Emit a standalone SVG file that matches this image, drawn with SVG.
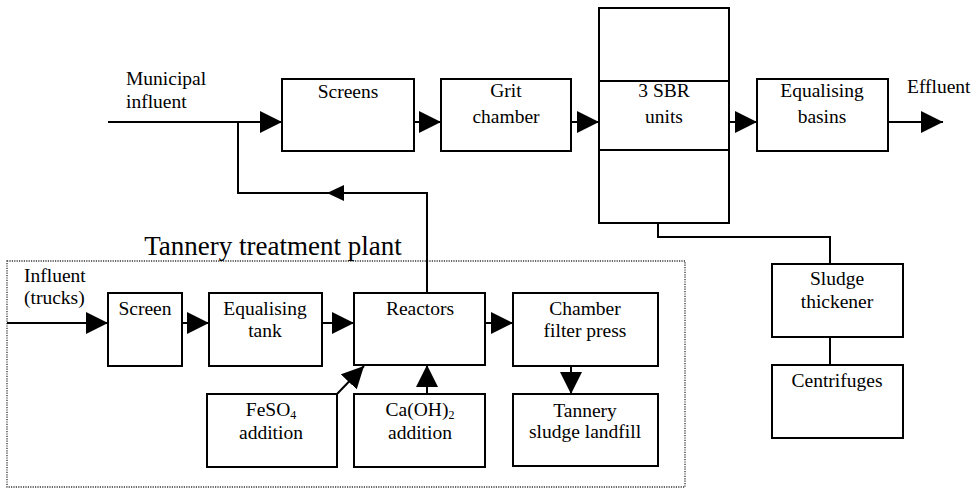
<svg xmlns="http://www.w3.org/2000/svg" width="977" height="490" viewBox="0 0 977 490">
<defs>
<style>
.box{fill:#fff;stroke:#000;stroke-width:2}
.ln{fill:none;stroke:#000;stroke-width:2}
.t{font-family:"Liberation Serif","Times New Roman",serif;font-size:19.5px;fill:#000}
.c{text-anchor:middle}
.title{font-family:"Liberation Serif","Times New Roman",serif;font-size:27px;fill:#000;text-anchor:middle}
.dot{fill:none;stroke:#333;stroke-width:1.3;stroke-dasharray:1.2 1.2}
.sub{font-size:12px;baseline-shift:-3px}
</style>
<marker id="ah" markerUnits="userSpaceOnUse" markerWidth="23" markerHeight="22" refX="22" refY="11" orient="auto" viewBox="0 0 23 22">
<path d="M0,0 L22,11 L0,22 Z" fill="#000"/>
</marker>
<marker id="ahs" markerUnits="userSpaceOnUse" markerWidth="18" markerHeight="16" refX="17" refY="8" orient="auto" viewBox="0 0 18 16">
<path d="M0,0 L17,8 L0,16 Z" fill="#000"/>
</marker>
</defs>
<rect width="977" height="490" fill="#fff"/>

<g id="tannery-plant">
<rect class="dot" x="7" y="261" width="678" height="226"/>
<text class="title" x="273" y="255">Tannery treatment plant</text>
</g>

<g id="connectors">
<path class="ln" d="M108,122 H282" marker-end="url(#ah)"/>
<path class="ln" d="M414,122 H441" marker-end="url(#ah)"/>
<path class="ln" d="M571,122 H599" marker-end="url(#ah)"/>
<path class="ln" d="M729,122 H757" marker-end="url(#ah)"/>
<path class="ln" d="M888,122 H943" marker-end="url(#ah)"/>
<path class="ln" d="M427,293 V193 H327" marker-end="url(#ahs)"/>
<path class="ln" d="M330,193 H238 V122"/>
<path class="ln" d="M7,323 H108" marker-end="url(#ah)"/>
<path class="ln" d="M182,323 H209" marker-end="url(#ah)"/>
<path class="ln" d="M322,323 H354" marker-end="url(#ah)"/>
<path class="ln" d="M485,323 H513" marker-end="url(#ah)"/>
<path class="ln" d="M571,366 V394" marker-end="url(#ah)"/>
<path class="ln" d="M337,394 L364,366" marker-end="url(#ah)"/>
<path class="ln" d="M427,394 V365" marker-end="url(#ah)"/>
<path class="ln" d="M658,223 V237 H830 V264"/>
<path class="ln" d="M830,337 V365"/>
</g>

<g id="municipal-influent">
<text class="t" x="126" y="85">Municipal</text>
<text class="t" x="126" y="108">influent</text>
</g>
<g id="screens">
<rect class="box" x="282" y="79" width="132" height="72"/>
<text class="t c" x="348" y="98">Screens</text>
</g>
<g id="grit-chamber">
<rect class="box" x="441" y="79" width="130" height="72"/>
<text class="t c" x="506" y="97">Grit</text>
<text class="t c" x="506" y="123">chamber</text>
</g>
<g id="sbr-units">
<rect class="box" x="599" y="8" width="130" height="73"/>
<rect class="box" x="599" y="150" width="130" height="73"/>
<rect class="box" x="599" y="81" width="130" height="69"/>
<text class="t c" x="664" y="97">3 SBR</text>
<text class="t c" x="664" y="123">units</text>
</g>
<g id="equalising-basins">
<rect class="box" x="757" y="79" width="131" height="72"/>
<text class="t c" x="822" y="97">Equalising</text>
<text class="t c" x="822" y="123">basins</text>
</g>
<g id="effluent">
<text class="t" x="907" y="93">Effluent</text>
</g>
<g id="sludge-thickener">
<rect class="box" x="772" y="264" width="131" height="73"/>
<text class="t c" x="837" y="285">Sludge</text>
<text class="t c" x="837" y="308">thickener</text>
</g>
<g id="centrifuges">
<rect class="box" x="772" y="365" width="131" height="73"/>
<text class="t c" x="837" y="387">Centrifuges</text>
</g>

<g id="influent-trucks">
<text class="t" x="24" y="282">Influent</text>
<text class="t" x="24" y="304">(trucks)</text>
</g>
<g id="screen">
<rect class="box" x="108" y="293" width="74" height="73"/>
<text class="t c" x="145" y="315">Screen</text>
</g>
<g id="equalising-tank">
<rect class="box" x="209" y="293" width="113" height="73"/>
<text class="t c" x="265" y="315">Equalising</text>
<text class="t c" x="265" y="337">tank</text>
</g>
<g id="reactors">
<rect class="box" x="354" y="293" width="131" height="72"/>
<text class="t c" x="420" y="315">Reactors</text>
</g>
<g id="chamber-filter-press">
<rect class="box" x="513" y="293" width="145" height="73"/>
<text class="t c" x="585" y="315">Chamber</text>
<text class="t c" x="585" y="337">filter press</text>
</g>
<g id="feso4-addition">
<rect class="box" x="207" y="394" width="130" height="73"/>
<text class="t c" x="271" y="416">FeSO<tspan class="sub">4</tspan></text>
<text class="t c" x="271" y="439">addition</text>
</g>
<g id="caoh2-addition">
<rect class="box" x="354" y="394" width="131" height="73"/>
<text class="t c" x="420" y="416">Ca(OH)<tspan class="sub">2</tspan></text>
<text class="t c" x="420" y="439">addition</text>
</g>
<g id="tannery-sludge-landfill">
<rect class="box" x="513" y="394" width="145" height="72"/>
<text class="t c" x="585" y="417">Tannery</text>
<text class="t c" x="585" y="438">sludge landfill</text>
</g>
</svg>
